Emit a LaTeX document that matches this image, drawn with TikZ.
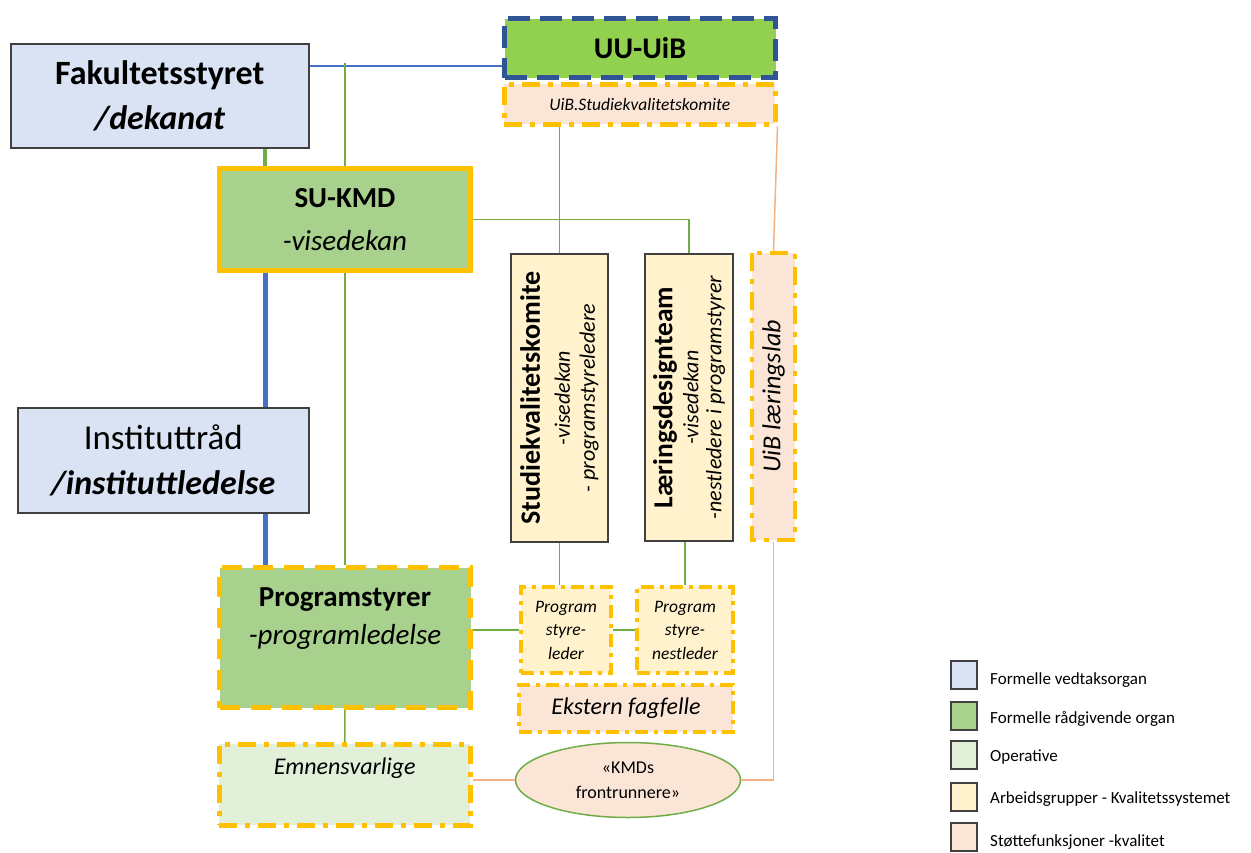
\documentclass[tikz,border=0pt]{standalone}
\usepackage{fontspec}
\setmainfont{Carlito}
\usetikzlibrary{shapes.geometric,calc}
\definecolor{fblue}{HTML}{DAE3F3}
\definecolor{fgreen}{HTML}{A9D18E}
\definecolor{lgreen}{HTML}{E2F0D9}
\definecolor{fyellow}{HTML}{FFF2CC}
\definecolor{fsalmon}{HTML}{FBE5D6}
\definecolor{orng}{HTML}{FFC000}
\definecolor{bgreen}{HTML}{92D050}
\definecolor{dblue}{HTML}{2F5597}
\definecolor{lblue}{HTML}{4472C4}
\definecolor{lngreen}{HTML}{70AD47}
\definecolor{lnsalmon}{HTML}{F4B183}
\definecolor{dgray}{HTML}{404040}
\newcommand\fsz[2]{\fontsize{#1}{#2}\selectfont}
\tikzset{
  box/.style={align=center, inner sep=0pt, anchor=north west},
  vedtak/.style={box, fill=fblue, draw=dgray, line width=1.5pt},
  arbeid/.style={box, fill=fyellow, draw=dgray, line width=1.5pt},
  odash/.style={draw=orng, line width=5pt, dash pattern=on 20pt off 11pt},
  odashdot/.style={draw=orng, line width=4.5pt, dash pattern=on 18pt off 8pt on 5pt off 8pt},
  osmall/.style={draw=orng, line width=4pt, dash pattern=on 13pt off 6pt on 4pt off 6pt},
  gline/.style={draw=lngreen, line width=1.5pt},
  gthick/.style={draw=lngreen, line width=4pt},
  bline/.style={draw=lblue, line width=1.3pt},
  bthick/.style={draw=lblue, line width=5pt},
  sline/.style={draw=lnsalmon, line width=1.5pt},
  legbox/.style={draw=dgray, line width=1.5pt, minimum width=26pt, minimum height=28pt, inner sep=0pt},
  legtext/.style={anchor=west, inner sep=0pt, font=\fsz{17}{20}},
}
\begin{document}
\begin{tikzpicture}[x=1pt, y=-1pt]
\useasboundingbox (0,0) rectangle (1251,852);

% main boxes
\node[vedtak, font=\fsz{34}{45}, minimum width=298pt, minimum height=104pt] (fak) at (10,43)
  {\bfseries Fakultetsstyret\\ \bfseries\itshape /dekanat};
\node[box, font=\fsz{29}{43}, fill=fgreen, draw=orng, line width=5pt, minimum width=251pt, minimum height=102pt] (sukmd) at (217,166)
  {\bfseries SU-KMD\\ \itshape -visedekan};
\node[vedtak, font=\fsz{34}{45}, minimum width=291pt, minimum height=105pt] (inst) at (17,407)
  {\fsz{35}{45}Instituttråd\\ \bfseries\itshape /instituttledelse};
\node[box, fill=fgreen, odash] (prog) at (217,565)
  {\parbox[c][140pt][t]{251pt}{\centering\vspace{20pt}\fsz{29}{38}\bfseries Programstyrer\\ \mdseries\itshape -programledelse}};
\node[box, fill=lgreen, odashdot] (emn) at (217,742)
  {\parbox[c][81pt][t]{251pt}{\centering\vspace{14pt}\fsz{24}{28}\itshape Emnensvarlige}};

\node[box, font=\fsz{30}{36}, fill=bgreen, draw=dblue, line width=5pt, dash pattern=on 22pt off 10pt, minimum width=271pt, minimum height=59pt] (uu) at (502,16)
  {\bfseries UU-UiB};
\node[box, font=\fsz{17.5}{20}, fill=fsalmon, odashdot, minimum width=271pt, minimum height=40pt] (uibsk) at (502,82)
  {\itshape UiB.Studiekvalitetskomite};

\node[arbeid, font=\fsz{22}{25}, rotate=90, anchor=center, minimum width=288pt, minimum height=97pt] (skk) at (559.5,398)
  {\fsz{28}{30}\bfseries Studiekvalitetskomite\\[5pt] \itshape -visedekan\\ \itshape - programstyreledere};
\node[arbeid, font=\fsz{22}{23}, rotate=90, anchor=center, minimum width=287pt, minimum height=88pt] (lds) at (689,397.5)
  {\fsz{27.5}{30}\bfseries Læringsdesignteam\\[3pt] \itshape -visedekan\\ \itshape -nestledere i programstyrer};
\node[box, font=\fsz{26}{30}, rotate=90, anchor=center, fill=fsalmon, odashdot, minimum width=287pt, minimum height=43pt] (lab) at (773.5,396.5)
  {\itshape UiB læringslab};

\node[box, font=\fsz{17.5}{23.5}\itshape, fill=fyellow, osmall, minimum width=90pt, minimum height=86pt] (psl) at (519,585)
  {Program\\ styre-\\ leder};
\node[box, font=\fsz{17.5}{23.5}\itshape, fill=fyellow, osmall, minimum width=96pt, minimum height=86pt] (psn) at (635,585)
  {Program\\ styre-\\ nestleder};
\node[box, font=\fsz{24}{28}\itshape, fill=fsalmon, osmall, minimum width=214pt, minimum height=47pt] (ekst) at (517,683)
  {Ekstern fagfelle};
\node[ellipse, font=\fsz{18}{25}, draw=lngreen, line width=1.5pt, fill=fsalmon, minimum width=225pt, minimum height=75pt, inner sep=0pt, align=center] (front) at (628,780)
  {«KMDs\\ frontrunnere»};

% connectors
\coordinate (L) at (265,0);
\coordinate (gtop) at (sukmd.north |- 0,63);
\draw[bline] (fak.east |- 0,66) -- (uu.west |- 0,66);
\draw[gthick] (fak.south -| L) -- (sukmd.north -| L);
\draw[gline] (gtop) -- (sukmd.north);
\draw[gline] (sukmd.south) -- (prog.north);
\draw[gline] (prog.south) -- (emn.north);
\draw[bthick] (sukmd.south -| L) -- (inst.north -| L);
\draw[bthick] (inst.south -| L) -- (prog.north -| L);
\draw[gline] (sukmd.east) -| (lds.east);
\draw[gline] (uibsk.south -| skk.east) -- (skk.east);
\draw[gline] (skk.west) -- (skk.west |- psl.north);
\draw[gline] (psn.north |- lds.west) -- (psn.north);
\draw[gline] (prog.east |- psl.west) -- (psl.west);
\draw[gline] (psl.east) -- (psn.west);
\draw[sline] (uibsk.south east) -- (lab.east);
\draw[sline] (lab.west) |- (front.east);
\draw[sline] (front.west) -- (emn.east |- front.west);

% legend
\node[legbox, fill=fblue] (k1) at (964,675) {};
\node[legbox, fill=fgreen] (k2) at (964,716) {};
\node[legbox, fill=lgreen] (k3) at (964,755) {};
\node[legbox, fill=fyellow] (k4) at (964,797) {};
\node[legbox, fill=fsalmon] (k5) at (964,837) {};
\node[legtext] (t1) at (990,680) {Formelle vedtaksorgan};
\node[legtext] (t2) at (990,719) {Formelle rådgivende organ};
\node[legtext] (t3) at (990,757) {Operative};
\node[legtext] (t4) at (990,799) {Arbeidsgrupper - Kvalitetssystemet};
\node[legtext] (t5) at (990,842) {Støttefunksjoner -kvalitet};
\end{tikzpicture}
\end{document}
